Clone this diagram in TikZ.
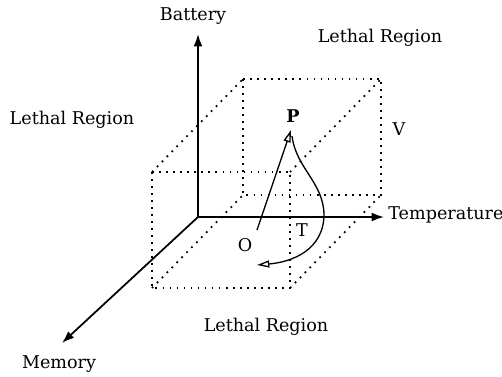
\documentclass[tikz,border=0pt]{standalone}
\usepackage{fontspec}
\setmainfont{DejaVu Serif}
\usetikzlibrary{arrows.meta}

\begin{document}
\begin{tikzpicture}[x=0.02cm,y=-0.02cm,
    every node/.style={font=\fontsize{10}{12}\selectfont, inner sep=0pt},
    axis/.style={line width=1pt, -{Latex[length=7pt,width=5pt]}},
    boxline/.style={line width=1pt, dash pattern=on 1pt off 3pt},
    path/.style={line width=0.75pt, -{Triangle[open,length=7pt,width=4pt]}}]

\useasboundingbox (0,0) rectangle (502,376);

% Axes
\coordinate (origin) at (198,217);
\node (battery) at (193,16) {Battery};
\node[anchor=west] (temp) at (388,215) {Temperature};
\node (memory) at (59,364) {Memory};
\draw[axis] (origin) -- (198,34);
\draw[axis] (origin) -- (384,217);
\draw[axis] (origin) -- (62,343);

% Safe region (box)
\draw[boxline] (152,172) rectangle (290,288);
\draw[boxline] (243,79) rectangle (381,195);
\draw[boxline] (152,172) -- (243,79);
\draw[boxline] (290,172) -- (381,79);
\draw[boxline] (290,288) -- (381,195);
\draw[boxline] (152,288) -- (243,195);

% Labels
\node (lethaltop) at (380,38) {Lethal Region};
\node (lethalleft) at (72,120) {Lethal Region};
\node (lethalbot) at (266,327) {Lethal Region};
\node (vlab) at (399,129) {V};
\node[font=\fontsize{10}{12}\selectfont\bfseries] (plab) at (293,116) {P};
\node (olab) at (245,245) {O};
\node (tlab) at (302,230) {T};

% Paths O -> P and P -> T
\coordinate (ostart) at (257,230);
\coordinate (ptop) at (291,130);
\coordinate (tend) at (257,265);
\draw[path] (ostart) -- (ptop);
\draw[path] (292,136) .. controls (296,168) and (323,182) .. (324,214)
    .. controls (324,250) and (292,262) .. (tend);

\end{tikzpicture}
\end{document}
